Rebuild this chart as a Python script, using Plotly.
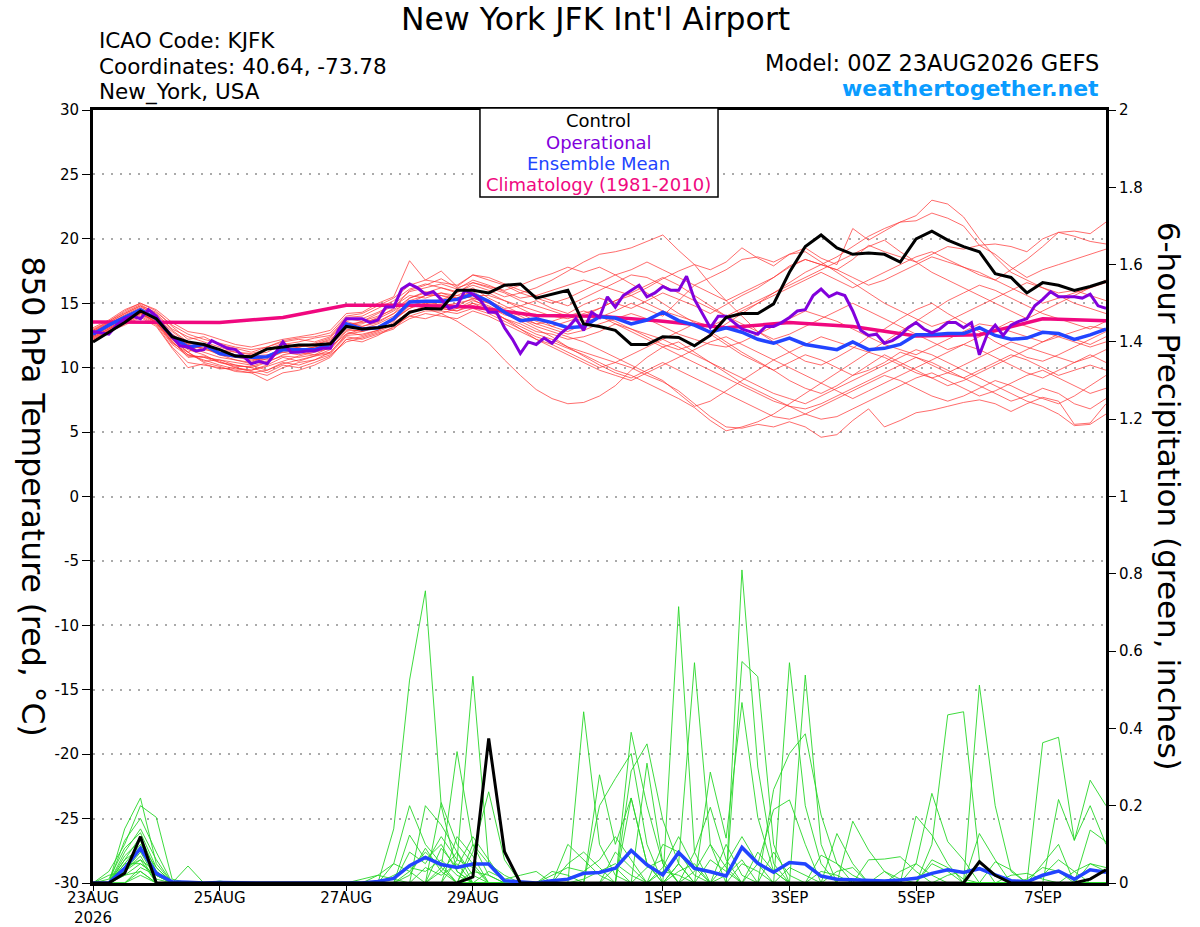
import pandas as pd
import plotly.graph_objects as go

# ---- data ----
run_start = "2026-08-23 00:00"

tick_dates = ["2026-08-23", "2026-08-25", "2026-08-27", "2026-08-29",
              "2026-09-01", "2026-09-03", "2026-09-05", "2026-09-07"]
tick_labels = ["23AUG<br>2026", "25AUG", "27AUG", "29AUG",
               "1SEP", "3SEP", "5SEP", "7SEP"]

# 850 hPa temperature, 6-hourly (deg C)
control_temp = [12.0, 12.75, 13.5, 14.4, 13.8, 12.4, 12.0, 11.8, 11.4, 10.9, 10.85, 11.45, 11.6, 11.75, 11.75, 11.85,
                13.2, 13.0, 13.1, 13.3, 14.3, 14.6, 14.55, 16.0, 16.0, 15.8, 16.4, 16.5, 15.4, 15.7, 16.0, 13.4,
                13.2, 12.9, 11.8, 11.8, 12.4, 12.35, 11.7, 12.5, 13.9, 14.2, 14.2, 14.95, 17.4, 19.4, 20.3, 19.3,
                18.8, 18.9, 18.8, 18.2, 20.0, 20.6, 19.9, 19.4, 19.0, 17.3, 17.0, 15.8, 16.6, 16.4, 16.0, 16.3, 16.7]

mean_temp = [12.6, 13.3, 13.9, 14.5, 13.8, 12.4, 11.6, 11.8, 11.1, 10.9, 10.8, 10.85, 11.4, 11.4, 11.4, 11.8,
             13.4, 13.0, 13.1, 13.8, 15.1, 15.15, 15.15, 15.3, 15.7, 15.15, 14.3, 13.65, 13.8, 13.5, 13.1, 13.2,
             13.95, 13.85, 13.4, 13.7, 14.3, 13.65, 13.3, 12.75, 13.1, 12.75, 12.2, 11.9, 12.3, 11.8, 11.6, 11.4,
             12.0, 11.4, 11.5, 11.8, 12.55, 12.55, 12.65, 12.65, 13.1, 12.5, 12.2, 12.3, 12.75, 12.65, 12.2, 12.55, 13.0]

# operational GFS, 3-hourly
oper_temp = [12.8, 12.7, 12.6, 13.3, 13.8, 14.0, 13.8, 14.5, 14.0, 13.1, 12.4, 11.7, 11.6, 11.3, 11.4, 12.1,
             11.8, 11.5, 11.4, 10.9, 10.3, 10.5, 10.3, 11.1, 12.0, 11.2, 11.2, 11.3, 11.3, 11.5, 11.5, 12.9,
             13.8, 13.8, 13.8, 13.5, 13.7, 14.7, 14.7, 16.1, 16.5, 16.2, 15.7, 15.9, 15.3, 14.6, 14.8, 16.0,
             15.7, 15.2, 14.3, 14.3, 13.1, 12.2, 11.1, 12.0, 11.8, 12.3, 11.9, 12.6, 13.1, 13.8, 12.9, 14.3,
             13.9, 15.5, 14.7, 15.6, 16.0, 16.4, 15.5, 15.8, 16.3, 16.0, 16.0, 17.1, 15.3, 14.2, 13.1, 14.0,
             14.0, 13.5, 13.0, 12.8, 12.6, 13.2, 13.2, 13.5, 13.9, 14.4, 14.5, 15.6, 16.1, 15.5, 15.8, 15.6,
             14.4, 12.9, 12.5, 12.6, 11.9, 12.1, 12.5, 13.1, 13.5, 13.0, 12.7, 13.0, 13.5, 13.5, 13.1, 13.5,
             11.0, 12.6, 13.3, 12.5, 13.3, 13.6, 13.8, 14.8, 15.3, 15.9, 15.5, 15.5, 15.5, 15.4, 15.7, 14.8,
             14.6]

# 1981-2010 climatology, daily at 00Z
clim_temp = [13.55, 13.5, 13.5, 13.9, 14.85, 14.85, 14.7, 14.05, 14.0, 13.6, 13.1, 13.5, 13.2,
             12.45, 12.55, 13.8, 13.65]

# GEFS perturbed members, 6-hourly temperature
member_temp = [
    [12.8, 13.5, 14.2, 14.8, 14.0, 12.6, 11.8, 11.5, 11.0, 10.6, 10.4, 10.9, 11.5, 11.2, 11.6, 12.0,
     13.6, 13.2, 13.5, 14.2, 15.4, 15.8, 16.2, 15.9, 16.4, 16.0, 15.5, 15.8, 16.2, 16.8, 17.5, 18.2,
     18.8, 19.0, 19.3, 19.8, 20.3, 19.1, 18.0, 16.5, 15.2, 14.0, 12.8, 12.0, 11.2, 10.5, 10.2, 10.8,
     11.5, 12.4, 13.0, 13.8, 14.5, 15.0, 14.2, 13.5, 12.8, 12.0, 11.4, 10.8, 10.5, 11.0, 11.6, 12.2, 12.8],
    [12.4, 13.0, 13.6, 14.3, 13.5, 12.0, 11.0, 10.6, 10.2, 9.9, 9.8, 10.2, 10.8, 10.5, 10.9, 11.4,
     12.8, 12.5, 12.9, 13.4, 14.4, 14.6, 14.2, 13.6, 12.8, 11.9, 10.6, 9.4, 8.3, 7.6, 7.2, 7.3,
     7.8, 8.6, 9.8, 10.8, 11.6, 12.0, 11.2, 10.4, 9.6, 8.8, 8.2, 7.6, 7.0, 6.4, 6.0, 6.2,
     6.8, 7.4, 8.0, 8.6, 9.2, 9.6, 9.0, 8.4, 7.8, 8.2, 8.8, 9.4, 9.8, 9.2, 8.6, 8.0, 8.4],
    [13.0, 13.6, 14.4, 15.0, 14.4, 13.2, 12.2, 12.4, 11.8, 11.5, 11.2, 11.6, 12.0, 12.2, 12.0, 12.4,
     13.8, 13.6, 14.2, 14.8, 15.6, 15.4, 15.8, 15.4, 15.9, 15.2, 14.6, 14.8, 15.2, 14.6, 14.2, 14.9,
     15.4, 15.0, 14.6, 15.2, 15.8, 15.3, 14.8, 14.2, 14.9, 15.6, 16.2, 17.0, 17.8, 18.4, 18.0, 18.6,
     19.4, 20.2, 20.8, 21.3, 21.8, 23.0, 22.7, 21.7, 20.0, 18.6, 17.4, 16.8, 16.2, 15.8, 16.0, 15.6, 15.2],
    [12.5, 13.2, 13.8, 14.5, 13.9, 12.8, 11.9, 11.7, 11.2, 11.0, 10.7, 10.6, 11.3, 11.6, 11.8, 12.2,
     13.3, 13.4, 13.9, 14.6, 16.0, 16.4, 16.9, 16.2, 16.6, 16.2, 15.8, 15.2, 14.8, 14.4, 14.0, 13.6,
     13.9, 14.4, 15.0, 14.5, 14.0, 15.2, 16.4, 17.0, 17.6, 18.4, 18.6, 18.2, 18.8, 19.3, 18.5, 18.0,
     20.8, 19.9, 20.6, 21.3, 21.4, 22.0, 21.6, 21.0, 19.5, 19.6, 19.4, 19.0, 20.0, 20.5, 20.6, 20.4, 21.3],
    [12.2, 12.9, 13.4, 14.0, 13.3, 11.6, 10.4, 10.2, 10.0, 9.8, 9.6, 9.0, 9.6, 9.8, 10.2, 10.8,
     12.2, 12.0, 12.5, 13.2, 14.0, 13.8, 14.2, 14.6, 15.0, 14.4, 13.8, 13.2, 12.6, 12.2, 11.6, 11.2,
     10.8, 10.4, 10.0, 9.4, 8.9, 8.2, 7.2, 6.2, 5.4, 5.3, 5.6, 5.4, 5.8, 5.4, 4.6, 4.8,
     5.9, 6.8, 5.4, 5.9, 6.5, 6.7, 7.0, 7.3, 7.5, 7.2, 6.6, 7.2, 7.7, 7.4, 5.6, 5.7, 7.2],
    [12.7, 13.4, 14.0, 14.6, 13.9, 12.3, 11.2, 11.9, 11.4, 11.0, 10.5, 10.9, 11.6, 11.8, 11.5, 11.9,
     13.2, 13.6, 14.0, 14.5, 15.4, 15.9, 15.6, 15.2, 15.6, 15.6, 15.2, 14.6, 14.0, 13.2, 12.8, 13.4,
     14.0, 13.6, 13.0, 12.6, 12.2, 12.8, 13.4, 12.6, 11.8, 11.0, 10.4, 9.8, 10.4, 11.0, 10.6, 10.0,
     9.4, 9.8, 10.4, 11.2, 10.8, 10.2, 9.6, 9.2, 9.8, 10.4, 11.0, 10.6, 10.0, 9.4, 9.8, 10.2, 9.8],
    [12.9, 13.6, 14.3, 14.9, 14.2, 13.0, 12.4, 12.0, 11.6, 11.2, 11.0, 11.2, 11.8, 12.0, 12.3, 12.5,
     13.9, 14.0, 14.6, 15.2, 16.1, 16.5, 16.2, 15.8, 16.6, 16.3, 16.0, 16.4, 16.9, 17.3, 17.8, 17.4,
     17.8, 17.2, 16.5, 15.8, 15.0, 14.2, 13.5, 12.8, 12.0, 11.2, 10.5, 9.8, 9.0, 8.4, 8.0, 8.6,
     9.4, 10.2, 11.0, 10.4, 9.8, 9.2, 8.6, 9.0, 9.6, 10.2, 10.8, 11.4, 12.0, 12.6, 12.2, 11.8, 12.4],
    [12.3, 12.9, 13.5, 14.1, 13.4, 11.8, 10.9, 10.8, 10.6, 10.4, 10.2, 9.8, 10.3, 10.6, 10.9, 11.1,
     12.4, 12.2, 12.6, 13.0, 14.2, 14.8, 14.6, 14.4, 14.8, 14.5, 13.8, 13.0, 12.4, 12.0, 11.5, 11.0,
     10.4, 9.8, 9.4, 8.8, 8.2, 7.6, 6.9, 5.9, 5.1, 5.4, 5.8, 6.4, 7.2, 8.0, 8.8, 9.6,
     10.4, 11.2, 12.0, 12.8, 13.6, 14.4, 15.2, 15.8, 16.4, 16.0, 15.4, 14.8, 14.2, 13.8, 13.4, 13.0, 13.6],
    [12.6, 13.3, 13.9, 14.4, 13.7, 12.5, 11.8, 11.4, 11.2, 10.9, 10.9, 11.0, 11.2, 11.0, 11.3, 11.7,
     13.0, 12.8, 13.2, 13.6, 14.8, 15.0, 15.3, 15.6, 15.4, 15.0, 14.4, 13.8, 13.4, 13.0, 12.6, 12.9,
     13.4, 13.8, 14.2, 13.8, 13.2, 12.6, 12.2, 11.8, 11.6, 12.0, 12.6, 13.2, 13.8, 14.4, 14.0, 13.6,
     13.0, 12.4, 11.8, 11.4, 11.0, 11.6, 12.2, 12.8, 13.4, 13.2, 12.8, 12.4, 12.0, 12.4, 12.8, 13.2, 13.0],
    [12.1, 12.8, 13.4, 14.2, 13.6, 12.2, 11.4, 11.0, 10.4, 10.2, 10.0, 10.4, 11.0, 11.2, 11.0, 11.6,
     12.6, 13.0, 13.4, 14.0, 14.8, 15.2, 14.8, 15.0, 15.3, 14.6, 13.8, 13.4, 12.8, 12.6, 12.2, 12.4,
     12.8, 13.4, 13.0, 12.4, 11.8, 11.4, 11.8, 12.6, 13.4, 14.2, 15.0, 15.8, 16.6, 17.4, 18.0, 17.6,
     18.4, 19.5, 19.0, 18.6, 18.2, 18.8, 19.4, 19.2, 19.5, 18.8, 17.8, 17.0, 17.6, 18.0, 18.4, 18.8, 19.2],
    [12.5, 13.1, 13.7, 14.4, 13.7, 12.1, 10.8, 10.9, 10.5, 10.0, 9.8, 10.1, 10.5, 10.9, 11.2, 11.5,
     12.9, 12.9, 13.2, 13.8, 14.6, 15.0, 14.9, 14.6, 15.2, 14.8, 14.2, 13.6, 13.0, 12.4, 11.6, 10.9,
     10.2, 9.6, 9.2, 9.8, 10.4, 9.8, 9.2, 8.6, 8.0, 7.4, 6.8, 6.2, 6.0, 6.4, 7.0, 7.6,
     8.2, 8.8, 9.4, 9.0, 8.4, 7.8, 7.4, 7.8, 8.4, 9.0, 8.6, 8.0, 7.6, 7.2, 7.8, 8.6, 9.4],
    [12.8, 13.4, 14.1, 14.7, 14.1, 12.9, 12.0, 11.8, 11.4, 11.2, 11.1, 11.4, 11.9, 11.6, 11.9, 12.3,
     13.7, 13.8, 14.3, 14.9, 15.9, 16.2, 16.5, 16.1, 16.8, 16.4, 15.9, 15.4, 15.6, 16.0, 16.4, 16.8,
     16.4, 16.0, 15.6, 16.2, 16.9, 17.5, 18.0, 17.6, 18.2, 19.3, 18.5, 17.9, 18.8, 19.0, 18.2, 17.4,
     16.6, 15.8, 15.0, 14.4, 13.8, 13.2, 13.6, 14.2, 14.8, 15.4, 16.0, 16.6, 16.2, 15.6, 15.0, 14.6, 14.2],
    [12.4, 13.0, 13.7, 14.3, 13.6, 12.0, 11.0, 10.8, 10.4, 10.1, 10.1, 10.5, 10.9, 10.8, 11.0, 11.2,
     12.5, 12.6, 12.9, 13.5, 14.3, 14.8, 14.6, 14.4, 15.0, 14.7, 14.1, 13.8, 13.2, 12.8, 12.4, 12.0,
     11.4, 10.8, 10.2, 9.6, 9.0, 8.0, 7.0, 7.4, 8.2, 9.0, 9.8, 10.6, 11.2, 11.8, 12.4, 12.0,
     11.6, 11.2, 10.8, 10.2, 9.6, 9.2, 9.6, 10.2, 10.8, 11.4, 12.0, 11.6, 11.2, 10.8, 10.4, 10.8, 11.4],
    [12.6, 13.2, 13.8, 14.4, 13.8, 12.6, 11.6, 11.2, 10.8, 10.6, 10.3, 10.7, 11.2, 11.4, 11.6, 12.0,
     13.3, 13.2, 13.6, 14.2, 15.0, 15.6, 15.6, 15.4, 16.0, 15.8, 15.2, 14.8, 14.4, 14.0, 13.8, 14.2,
     14.6, 15.2, 15.6, 15.0, 14.4, 14.0, 13.6, 13.2, 13.8, 14.4, 15.0, 15.6, 16.2, 16.8, 17.4, 16.8,
     16.2, 16.8, 17.4, 18.0, 18.6, 19.0, 18.4, 17.8, 17.2, 16.8, 17.6, 18.4, 19.4, 20.5, 20.2, 19.8, 19.6],
    [12.3, 13.0, 13.5, 14.2, 13.5, 11.9, 11.2, 10.4, 10.1, 9.7, 9.6, 9.8, 10.4, 10.2, 10.6, 11.2,
     12.6, 12.8, 13.1, 13.7, 14.6, 15.2, 15.0, 14.8, 15.4, 15.0, 14.5, 14.0, 13.4, 13.6, 14.0, 14.4,
     14.0, 13.4, 12.8, 12.2, 11.6, 11.0, 10.4, 9.8, 9.2, 8.6, 8.0, 7.4, 7.0, 6.8, 7.2, 7.8,
     8.4, 9.0, 9.6, 10.2, 10.8, 10.4, 9.8, 9.2, 8.6, 8.0, 7.4, 7.8, 8.4, 8.0, 7.2, 6.8, 7.6],
    [12.9, 13.5, 14.2, 14.8, 14.3, 13.3, 12.6, 12.2, 11.9, 11.6, 11.4, 11.6, 12.1, 12.3, 12.4, 12.7,
     14.0, 14.2, 14.8, 15.4, 16.4, 16.8, 16.6, 16.4, 17.2, 16.8, 16.4, 15.8, 15.4, 15.0, 15.4, 16.0,
     16.6, 17.2, 17.6, 18.2, 17.6, 17.0, 16.4, 15.8, 15.2, 15.8, 16.4, 17.0, 17.9, 18.4, 18.0, 17.6,
     17.0, 16.4, 16.8, 17.4, 18.0, 18.6, 18.2, 17.8, 17.4, 16.8, 16.2, 15.6, 15.0, 15.4, 15.8, 16.2, 16.6],
    [12.2, 12.8, 13.3, 13.9, 13.2, 11.5, 10.0, 10.3, 9.9, 10.0, 9.7, 9.4, 10.0, 10.4, 10.6, 11.0,
     12.0, 12.3, 12.7, 13.1, 13.8, 14.2, 14.0, 13.8, 14.4, 14.0, 13.4, 12.8, 12.2, 11.8, 11.2, 10.6,
     10.0, 10.4, 11.0, 11.6, 12.2, 11.6, 11.0, 10.4, 9.8, 9.2, 8.6, 8.0, 7.6, 7.2, 7.8, 8.4,
     9.0, 9.6, 10.2, 10.8, 11.4, 11.0, 10.4, 9.8, 9.2, 8.6, 8.0, 7.4, 7.0, 6.4, 5.5, 5.6, 6.4],
    [12.7, 13.4, 14.0, 14.6, 13.9, 12.4, 11.5, 11.6, 11.0, 10.8, 10.6, 10.8, 11.4, 11.6, 11.8, 12.1,
     13.4, 13.5, 13.8, 14.4, 15.2, 15.6, 15.8, 15.6, 16.2, 15.4, 14.8, 14.2, 13.6, 13.2, 13.6, 14.0,
     14.6, 15.2, 15.8, 16.4, 17.0, 16.4, 15.6, 14.8, 14.0, 13.4, 12.8, 12.2, 12.6, 13.2, 13.8, 14.4,
     15.0, 14.4, 13.8, 13.2, 12.6, 12.0, 11.4, 11.8, 12.4, 13.0, 13.6, 13.2, 12.8, 12.4, 12.0, 11.6, 12.0],
    [12.5, 13.1, 13.7, 14.2, 13.5, 12.2, 11.2, 10.5, 10.6, 10.2, 10.0, 9.6, 10.2, 10.0, 10.4, 10.9,
     12.2, 12.4, 12.8, 13.3, 14.0, 14.4, 14.4, 14.2, 14.6, 14.2, 13.6, 13.0, 12.2, 11.6, 11.0, 10.4,
     9.8, 9.4, 9.0, 9.6, 10.2, 10.8, 11.4, 12.0, 12.4, 11.8, 11.2, 10.6, 10.0, 9.4, 8.8, 8.2,
     7.6, 8.2, 8.8, 9.4, 10.0, 10.6, 11.2, 11.8, 11.4, 10.8, 10.2, 9.6, 9.2, 9.8, 10.4, 11.0, 10.4],
    [13.1, 13.7, 14.5, 15.0, 14.5, 13.5, 12.8, 12.6, 12.2, 11.8, 11.6, 11.9, 12.2, 12.4, 12.6, 12.9,
     14.2, 14.3, 15.0, 15.5, 18.3, 16.8, 17.5, 16.3, 17.2, 17.0, 16.5, 16.0, 15.6, 15.2, 14.8, 15.4,
     16.0, 16.6, 17.2, 17.0, 16.4, 15.8, 15.2, 14.6, 14.0, 14.6, 15.2, 15.8, 16.4, 17.0, 17.6, 18.2,
     18.8, 19.4, 19.9, 19.0, 18.2, 17.4, 16.8, 16.2, 15.6, 15.0, 14.4, 13.8, 14.4, 15.0, 15.6, 16.2, 16.8],
]

# 6-hour precipitation (inches)
control_precip = [0, 0, .025, .12, 0, 0, 0, 0, 0, 0, 0, 0, 0,
                  0, 0, 0, 0, 0, 0, 0, 0, 0, 0, 0, .016, .374,
                  .081, 0, 0, 0, 0, 0, 0, 0, 0, 0, 0, 0, 0,
                  0, 0, 0, 0, 0, 0, 0, 0, 0, 0, 0, 0, 0,
                  0, 0, 0, 0, .055, .02, 0, 0, 0, 0, 0, .01, .034]

mean_precip = [0, 0, .038, .09, .025, .003, .002, 0, .001, 0, 0, 0, 0,
               0, 0, 0, 0, 0, .004, .012, .045, .066, .048, .04, .049, .049,
               .006, .002, 0, .006, .01, .025, .027, .038, .084, .047, .021, .079, .038,
               .029, .018, .092, .051, .028, .053, .049, .018, .01, .009, .008, .005, .008,
               .012, .025, .034, .027, .037, .021, .006, .003, .02, .031, .01, .034, .028]

member_precip = [
    [0, 0, .14, .22, .05, 0, 0, 0, 0, 0, 0, 0, 0,
     0, 0, 0, 0, 0, 0, .14, .525, .756, .2, .03, 0, 0,
     0, 0, 0, 0, 0, 0, 0, 0, 0, 0, 0, .05, 0,
     0, 0, .81, .3, .05, 0, 0, 0, 0, 0, 0, 0, 0,
     0, 0, 0, 0, .512, .2, .03, 0, 0, 0, 0, 0, 0],
    [0, .03, .1, .2, .17, .01, 0, 0, 0, 0, 0, 0, 0,
     0, 0, 0, 0, 0, 0, 0, 0, 0, 0, .06, .535, .05,
     0, 0, 0, 0, 0, .443, .1, .02, 0, 0, 0, .715, .08,
     0, 0, 0, 0, 0, 0, 0, 0, 0, 0, 0, 0, 0,
     0, .1, .435, .443, .06, 0, 0, 0, 0, 0, 0, 0, 0],
    [0, 0, .11, .167, .08, 0, 0, 0, 0, 0, 0, 0, 0,
     0, 0, 0, 0, 0, 0, 0, 0, 0, .04, .34, .1, .02,
     0, 0, 0, 0, 0, 0, 0, 0, .39, .2, .05, 0, 0,
     0, 0, .573, .534, .1, 0, 0, 0, 0, 0, 0, 0, 0,
     0, 0, 0, 0, 0, 0, 0, 0, .363, .377, .11, .266, .2],
    [0, 0, .08, .14, .06, 0, 0, 0, 0, 0, 0, 0, 0,
     0, 0, 0, 0, 0, 0, .05, .2, .1, .05, 0, 0, 0,
     0, 0, 0, 0, 0, 0, 0, 0, 0, 0, 0, .05, .57,
     .1, 0, 0, 0, 0, .57, .2, .05, 0, 0, 0, 0, 0,
     0, 0, 0, 0, 0, 0, 0, 0, 0, 0, 0, .137, .107],
    [0, 0, .06, .12, .03, 0, 0, 0, 0, 0, 0, 0, 0,
     0, 0, 0, 0, 0, 0, 0, 0, 0, .208, .1, .05, 0,
     0, 0, 0, 0, 0, 0, .2, .27, .335, .1, 0, 0, 0,
     0, 0, 0, 0, 0, 0, .538, .1, 0, 0, 0, 0, 0,
     .05, .232, .107, .06, 0, 0, 0, 0, 0, 0, 0, 0, 0],
    [0, 0, .05, .1, .04, 0, .044, 0, 0, 0, 0, 0, 0,
     0, 0, 0, 0, 0, 0, 0, 0, 0, 0, 0, .08, .236,
     .06, 0, 0, 0, 0, 0, 0, 0, 0, 0, 0, 0, 0,
     .287, .116, .467, .17, .03, 0, 0, 0, 0, 0, 0, 0, 0,
     0, 0, 0, 0, 0, 0, 0, 0, 0, .216, .111, .2, .1],
    [0, 0, .04, .09, .02, 0, 0, 0, 0, 0, 0, 0, 0,
     0, 0, 0, 0, 0, 0, 0, .124, .06, .1, .03, 0, 0,
     0, 0, 0, 0, 0, 0, 0, 0, .29, .36, .163, .05, 0,
     0, 0, 0, 0, 0, 0, 0, 0, 0, .16, .085, .03, 0,
     0, 0, 0, 0, 0, 0, 0, 0, 0, 0, 0, 0, 0],
    [0, .02, .03, .08, .01, 0, 0, 0, 0, 0, 0, 0, 0,
     0, 0, 0, 0, 0, 0, 0, 0, .2, .15, .08, 0, 0,
     0, 0, 0, 0, 0, 0, 0, 0, 0, .31, .05, 0, 0,
     0, 0, 0, 0, .242, .335, .386, .176, .05, 0, 0, 0, 0,
     0, 0, 0, 0, 0, 0, 0, 0, 0, 0, 0, 0, 0],
    [0, 0, .03, .06, 0, 0, 0, 0, 0, 0, 0, 0, 0,
     0, 0, 0, 0, 0, 0, 0, .08, .05, .12, .06, .04, 0,
     0, 0, 0, 0, 0, 0, .28, .1, .22, .05, 0, 0, 0,
     0, 0, 0, 0, 0, 0, 0, 0, .128, .05, 0, 0, 0,
     .173, .124, .05, 0, 0, 0, 0, 0, 0, 0, 0, 0, 0],
    [0, 0, .02, .05, .02, 0, 0, 0, 0, 0, 0, 0, 0,
     0, 0, 0, 0, 0, 0, 0, 0, 0, 0, 0, .1, .05,
     .02, 0, 0, 0, 0, 0, 0, 0, 0, 0, 0, 0, .08,
     .196, .06, 0, .05, .19, .215, .1, 0, 0, 0, 0, 0, 0,
     0, 0, 0, 0, 0, .055, .034, 0, .05, .1, 0, 0, 0],
    [0, 0, 0, .04, .02, 0, 0, 0, 0, 0, 0, 0, 0,
     0, 0, 0, 0, 0, .02, .05, .03, .08, .04, 0, 0, 0,
     0, 0, 0, 0, .05, .08, .04, 0, 0, 0, .1, .08, .02,
     0, 0, 0, 0, 0, 0, 0, 0, 0, 0, .06, .062, .068,
     .03, 0, 0, 0, 0, 0, 0, 0, 0, 0, 0, 0, 0],
    [0, 0, .02, .03, 0, 0, 0, 0, 0, 0, 0, 0, 0,
     0, 0, 0, 0, 0, 0, 0, 0, 0, .09, .04, .12, .06,
     0, 0, 0, 0, 0, 0, 0, 0, .22, .05, 0, 0, 0,
     0, .05, .12, .05, 0, 0, 0, 0, 0, 0, 0, 0, 0,
     0, .05, .03, 0, 0, 0, 0, 0, .02, .06, .03, 0, 0],
    [0, 0, 0, .02, 0, 0, 0, 0, 0, 0, 0, 0, 0,
     0, 0, 0, 0, 0, 0, .02, .04, .03, .06, .02, 0, 0,
     0, 0, 0, .02, .04, .03, .06, .12, .06, 0, 0, 0, 0,
     .06, .03, 0, 0, 0, 0, 0, .072, .05, .02, 0, 0, 0,
     0, 0, 0, 0, .128, .06, 0, 0, 0, 0, 0, 0, 0],
    [0, 0, .05, .05, .02, 0, 0, 0, 0, 0, 0, 0, 0,
     0, 0, 0, 0, 0, 0, 0, 0, 0, 0, 0, 0, .03,
     .01, .02, .03, 0, 0, 0, 0, .04, 0, 0, .04, .12, .04,
     0, 0, 0, .08, .03, 0, 0, 0, 0, 0, 0, 0, 0,
     0, 0, 0, 0, 0, 0, .02, .025, .01, 0, 0, 0, 0],
    [0, 0, .03, .07, 0, 0, 0, 0, 0, 0, 0, 0, 0,
     0, 0, 0, 0, 0, 0, 0, 0, 0, 0, .12, .07, 0,
     0, 0, 0, 0, 0, .01, .03, .05, .02, 0, 0, 0, .03,
     .1, .04, 0, 0, 0, 0, 0, 0, 0, 0, 0, .03, .01,
     0, .06, .04, .01, 0, 0, 0, 0, 0, 0, 0, 0, 0],
    [0, 0, 0, .03, 0, 0, 0, 0, .005, 0, 0, 0, 0,
     0, 0, 0, 0, 0, 0, 0, .02, .09, .03, 0, 0, 0,
     0, 0, 0, 0, 0, 0, 0, 0, 0, .04, .06, 0, 0,
     0, 0, .05, .03, 0, 0, 0, 0, .03, .04, 0, 0, 0,
     0, 0, 0, 0, 0, 0, 0, 0, 0, 0, .03, .05, .03],
    [0, 0, .04, .06, .03, 0, 0, 0, 0, 0, 0, 0, 0,
     0, 0, 0, 0, 0, 0, 0, 0, .04, .02, .05, 0, 0,
     0, 0, 0, 0, 0, 0, 0, 0, 0, 0, 0, .03, .05,
     0, 0, 0, 0, 0, .04, .02, 0, 0, 0, 0, 0, 0,
     0, 0, .02, .03, .04, .02, 0, 0, 0, 0, 0, 0, 0],
    [0, 0, .07, .11, 0, 0, 0, 0, 0, 0, 0, 0, 0,
     0, 0, 0, 0, 0, 0, 0, .03, 0, 0, 0, .03, .02,
     0, 0, 0, 0, .1, .06, .02, 0, 0, 0, 0, 0, 0,
     0, .02, .06, 0, 0, 0, 0, 0, 0, 0, 0, 0, 0,
     0, 0, 0, 0, 0, 0, 0, .01, .04, .03, 0, 0, 0],
    [0, .01, .09, .13, .04, 0, 0, 0, 0, 0, 0, 0, 0,
     0, 0, 0, 0, 0, 0, 0, 0, 0, .03, .08, .02, 0,
     0, 0, 0, .03, .02, 0, 0, .08, .04, 0, 0, 0, 0,
     0, 0, 0, 0, .08, .02, 0, 0, 0, 0, 0, 0, .03,
     .05, .02, 0, 0, 0, 0, 0, 0, 0, 0, 0, 0, 0],
    [0, 0, .06, .09, .03, 0, 0, 0, 0, 0, 0, 0, 0,
     0, 0, 0, 0, .01, .02, .01, 0, 0, 0, 0, 0, 0,
     0, 0, 0, 0, 0, 0, 0, 0, 0, 0, .03, .02, 0,
     0, .1, .02, 0, 0, 0, 0, .03, .02, 0, 0, 0, 0,
     0, 0, 0, 0, 0, 0, 0, 0, 0, 0, 0, .05, .04],
]

for m in member_temp + member_precip + [control_temp, mean_temp, control_precip, mean_precip]:
    assert len(m) == 65, len(m)
assert len(oper_temp) == 129

times6 = pd.date_range(run_start, periods=65, freq="6h")
times3 = pd.date_range(run_start, periods=129, freq="3h")
days = pd.date_range(run_start, periods=17, freq="D")

FONT = "DejaVu Sans, Liberation Sans, Arial, sans-serif"

fig = go.Figure()

# ensemble members
for m in member_temp:
    fig.add_trace(go.Scatter(x=times6, y=m, mode="lines",
                             line=dict(color="rgba(255,50,50,0.8)", width=0.9),
                             hoverinfo="skip"))
for m in member_precip:
    fig.add_trace(go.Scatter(x=times6, y=m, mode="lines", yaxis="y2",
                             line=dict(color="rgb(40,215,40)", width=0.9),
                             hoverinfo="skip"))

# highlighted lines
fig.add_trace(go.Scatter(x=days, y=clim_temp, mode="lines",
                         line=dict(color="#f0087f", width=3.5)))
fig.add_trace(go.Scatter(x=times6, y=mean_temp, mode="lines",
                         line=dict(color="#2244ff", width=3.5)))
fig.add_trace(go.Scatter(x=times3, y=oper_temp, mode="lines",
                         line=dict(color="#8200dc", width=3)))
fig.add_trace(go.Scatter(x=times6, y=control_temp, mode="lines",
                         line=dict(color="black", width=3)))
fig.add_trace(go.Scatter(x=times6, y=mean_precip, mode="lines", yaxis="y2",
                         line=dict(color="#2244ff", width=3.5)))
fig.add_trace(go.Scatter(x=times6, y=control_precip, mode="lines", yaxis="y2",
                         line=dict(color="black", width=3)))

temp_ticks = list(range(-30, 31, 5))

fig.update_layout(
    width=1200, height=927,
    margin=dict(l=93, r=94, t=110, b=44),
    paper_bgcolor="white", plot_bgcolor="white",
    showlegend=False,
    font=dict(family=FONT, color="black", size=15),
    xaxis=dict(
        type="date", automargin=False,
        range=["2026-08-23 00:00", "2026-09-08 00:00"],
        tickvals=tick_dates, ticktext=tick_labels,
        ticks="outside", ticklen=5, tickcolor="black",
        ticklabelstandoff=-6,
        showgrid=False, zeroline=False,
        showline=True, linecolor="black", linewidth=3, mirror=True,
        tickfont=dict(size=15),
    ),
    yaxis=dict(
        range=[-30, 30], automargin=False,
        tickvals=temp_ticks, ticktext=[str(t) for t in temp_ticks],
        ticks="outside", ticklen=8, tickcolor="black",
        showgrid=True, gridcolor="#aaaaaa", gridwidth=2, griddash="2px,7px",
        zeroline=False,
        showline=True, linecolor="black", linewidth=3, mirror=True,
        tickfont=dict(size=15),
    ),
    yaxis2=dict(
        range=[0, 2], dtick=0.2, overlaying="y", side="right", automargin=False,
        ticks="outside", ticklen=7, tickcolor="black",
        showgrid=False, zeroline=False,
        showline=True, linecolor="black", linewidth=3,
        tickfont=dict(size=15),
    ),
)

# legend box
fig.add_shape(type="rect", xref="paper", yref="paper",
              x0=0.382, x1=0.617, y0=0.8875, y1=1.0026,
              line=dict(color="black", width=1.5), fillcolor="white", layer="above")

legend_items = [("Control", "black", 0.9858), ("Operational", "#8200dc", 0.9586),
                ("Ensemble Mean", "#2244ff", 0.9314), ("Climatology (1981-2010)", "#f0087f", 0.9030)]
for txt, col, yy in legend_items:
    fig.add_annotation(text=txt, x=0.4995, y=yy, xref="paper", yref="paper",
                       showarrow=False, xanchor="center", yanchor="middle",
                       font=dict(size=18, color=col, family=FONT))

# header texts
fig.add_annotation(text="New York JFK Int'l Airport", x=0.4965, y=1.118, xref="paper", yref="paper",
                   showarrow=False, xanchor="center", yanchor="middle",
                   font=dict(size=31.5, family=FONT))
for txt, yy in [("ICAO Code: KJFK", 1.0905), ("Coordinates: 40.64, -73.78", 1.0569),
                ("New_York, USA", 1.0233)]:
    fig.add_annotation(text=txt, x=0.004, y=yy, xref="paper", yref="paper",
                       showarrow=False, xanchor="left", yanchor="middle",
                       font=dict(size=21.5, family=FONT))
fig.add_annotation(text="Model: 00Z 23AUG2026 GEFS", x=0.995, y=1.0608, xref="paper", yref="paper",
                   showarrow=False, xanchor="right", yanchor="middle",
                   font=dict(size=22.5, family=FONT))
fig.add_annotation(text="<b>weathertogether.net</b>", x=0.995, y=1.0272, xref="paper", yref="paper",
                   showarrow=False, xanchor="right", yanchor="middle",
                   font=dict(size=22, color="#0a9cff", family=FONT))

# axis titles (both read top to bottom)
fig.add_annotation(text="850 hPa Temperature (red, °C)", x=-0.059, y=0.5,
                   xref="paper", yref="paper", showarrow=False, textangle=90,
                   xanchor="center", yanchor="middle", font=dict(size=31.5, family=FONT))
fig.add_annotation(text="6-hour Precipitation (green, inches)", x=1.063, y=0.5,
                   xref="paper", yref="paper", showarrow=False, textangle=90,
                   xanchor="center", yanchor="middle", font=dict(size=31, family=FONT))

# drop the default page margin so the figure sits at the window's top-left corner
fig.write_html("out.html", config={"displayModeBar": False},
               post_script="document.body.style.margin='0';")
